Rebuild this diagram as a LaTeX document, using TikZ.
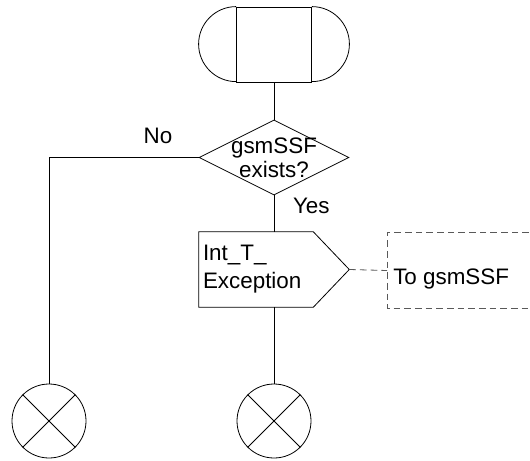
\documentclass[tikz,border=0pt]{standalone}
\usepackage{fontspec}
\setmainfont{Liberation Sans}
\usepackage{tikz}
\usetikzlibrary{arrows.meta,positioning,calc,shapes.geometric}
\tikzset{
  line/.style={draw=black, line width=0.6pt},
  dline/.style={draw=black!65, dash pattern=on 5pt off 3pt, line width=0.6pt},
  startbox/.style={line, rectangle, minimum width=56.25pt, minimum height=56.25pt, inner sep=0pt},
  decision/.style={line, diamond, minimum width=112.5pt, minimum height=56.25pt, inner sep=0pt},
  outbox/.style={rectangle, minimum width=112.5pt, minimum height=56.25pt, inner sep=3pt, text width=106.5pt, align=left},
  destbox/.style={rectangle, minimum width=170pt, minimum height=56.25pt, inner sep=0pt},
  connector/.style={line, circle, minimum size=55.5pt, inner sep=0pt},
  lbl/.style={font=\fontsize{16.8}{18}\selectfont, align=center, inner sep=0pt}
}

\begin{document}
\begin{tikzpicture}[x=0.75pt,y=-0.75pt]
\clip (0,0) rectangle (530,460);
% start symbol
\node[startbox] (start) at (274,44.5) {};
\draw[line] (start.north west) arc[start angle=90, end angle=270, radius=28.125pt];
\draw[line] (start.north east) arc[start angle=90, end angle=-90, radius=28.125pt];
% decision
\node[decision] (cond) at (274,157.5) {};
\node[lbl] (condtext) at (274,158) {gsmSSF\\exists?};
\draw[line] (start) -- (cond);
% output signal
\node[outbox, font=\fontsize{16.8}{21}\selectfont] (sig) at (274,269.5) {Int\_T\_\\Exception};
\draw[line] (sig.north west) -- ($(sig.north east)+(-36,0)$) -- (sig.east)
  -- ($(sig.south east)+(-36,0)$) -- (sig.south west) -- cycle;
\draw[line] (cond) -- node[lbl, pos=0.3, right=14pt] (yes) {Yes} (sig);
% destination (cut off at the right)
\node[destbox, anchor=west] (dest) at (387,270.5) {};
\draw[dline] (dest.north east) -- (dest.north west) -- (dest.south west) -- (dest.south east);
\node[lbl, anchor=west] (desttext) at (393,279) {To gsmSSF};
\draw[dline] (sig.east) -- (dest.west);
% connectors
\node[connector] (endl) at (49,421) {};
\node[connector] (endr) at (274,421) {};
\draw[line] (endl.north west) -- (endl.south east) (endl.north east) -- (endl.south west);
\draw[line] (endr.north west) -- (endr.south east) (endr.north east) -- (endr.south west);
\draw[line] (cond.west) -| node[lbl, pos=0.136, above=10pt] (no) {No} (endl.north);
\draw[line] (sig) -- (endr);
\end{tikzpicture}
\end{document}
